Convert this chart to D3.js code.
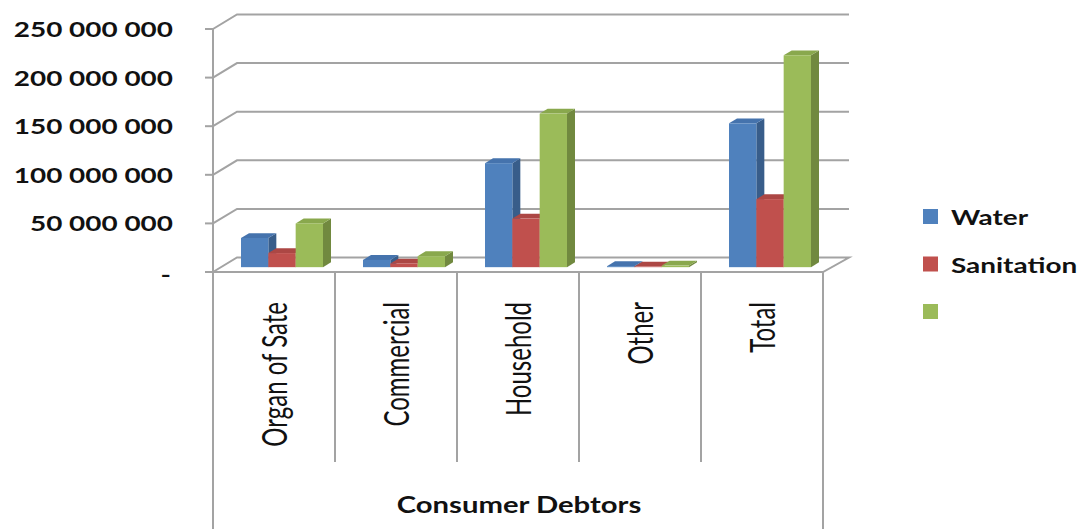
<!DOCTYPE html>
<html>
<head>
<meta charset="utf-8">
<script src="https://cdn.jsdelivr.net/npm/d3@7"></script>
<style>
  body { margin: 0; background: #fff; }
  text { font-family: Lato, "Open Sans", sans-serif; fill: #111; }
</style>
</head>
<body>
<div id="chart-container"></div>
<script>
// data (values in rand)
const categories = ["Organ of Sate", "Commercial", "Household", "Other", "Total"];
const seriesNames = ["Water", "Sanitation", ""];
const water = [30e6, 7.5e6, 107e6, 1e6, 148e6];
const sanitation = [14.5e6, 3.8e6, 50e6, 0.6e6, 70e6];
const third = [45e6, 11.3e6, 158e6, 1.6e6, 218e6];
const yTicks = [0, 50e6, 100e6, 150e6, 200e6, 250e6];
const yTickLabels = ["-", "50 000 000", "100 000 000", "150 000 000", "200 000 000", "250 000 000"];
const xAxisTitle = "Consumer Debtors";

const width = 1078, height = 529;
const plot = { left: 213, right: 823, top: 29, base: 272 };
const depth = { dx: 24, dy: -14.5 };   // floor depth vector
const barDepth = [1 / 3, 2 / 3];          // bars sit in the middle third
const stretch = 1.33;                     // the original picture is stretched sideways

const colors = ["#4f81bd", "#c0504d", "#9bbb59"];
const sideColors = ["#385d8a", "#8f3b39", "#71893f"];
const topColors = ["#4573ad", "#ac4744", "#89a84d"];
const gridColor = "#a3a3a3";

const svg = d3.select("#chart-container").append("svg")
  .attr("width", width).attr("height", height);

const x = d3.scaleBand().domain(categories).range([plot.left, plot.right]);
const xs = d3.scaleBand().domain(d3.range(seriesNames.length))
  .range([20, x.bandwidth() - 20]);
const y = d3.scaleLinear().domain([0, 250e6]).range([plot.base, plot.top]);

const values = [water, sanitation, third];

// walls & gridlines
let g = svg.append("g").attr("fill", "none").attr("stroke", gridColor).attr("stroke-width", 2);
const backRight = plot.right + depth.dx + 2;
yTicks.forEach(v => {
  const yy = y(v);
  if (v === 0) {
    g.append("path").attr("d",
      `M${plot.left},${yy}L${plot.left + depth.dx},${yy + depth.dy}L${backRight},${yy + depth.dy}` +
      `L${plot.right},${yy}Z`);
  } else {
    g.append("path").attr("d",
      `M${plot.left},${yy}L${plot.left + depth.dx},${yy + depth.dy}L${backRight},${yy + depth.dy}`);
  }
  g.append("line").attr("x1", plot.left - 8).attr("x2", plot.left).attr("y1", yy).attr("y2", yy);
});

// front vertical lines / category table
g.append("line").attr("x1", plot.left).attr("x2", plot.left).attr("y1", y(250e6)).attr("y2", height);
g.append("line").attr("x1", plot.right).attr("x2", plot.right).attr("y1", plot.base).attr("y2", height);
categories.slice(1).forEach(c => {
  g.append("line").attr("x1", x(c)).attr("x2", x(c)).attr("y1", plot.base).attr("y2", 462);
});

// bars
let gBars = svg.append("g");
const f0x = depth.dx * barDepth[0], f0y = depth.dy * barDepth[0];
const ddx = depth.dx * (barDepth[1] - barDepth[0]), ddy = depth.dy * (barDepth[1] - barDepth[0]);
categories.forEach((c, ci) => {
  values.forEach((vals, si) => {
    const xl = x(c) + xs(si) + f0x;
    const xr = xl + xs.bandwidth();
    const yt = y(vals[ci]) + f0y;
    const yb = y(0) + f0y;
    // side
    gBars.append("path")
      .attr("d", `M${xr},${yt}L${xr + ddx},${yt + ddy}L${xr + ddx},${yb + ddy}L${xr},${yb}Z`)
      .attr("fill", sideColors[si]);
    // top
    gBars.append("path")
      .attr("d", `M${xl},${yt}L${xr},${yt}L${xr + ddx},${yt + ddy}L${xl + ddx},${yt + ddy}Z`)
      .attr("fill", topColors[si]);
    // front
    gBars.append("rect")
      .attr("x", xl).attr("y", yt)
      .attr("width", xs.bandwidth()).attr("height", Math.max(0, yb - yt))
      .attr("fill", colors[si]);
  });
});

// y tick labels
let gText = svg.append("g");
yTicks.forEach((v, i) => {
  gText.append("text")
    .attr("transform", `translate(${i === 0 ? 171 : 173},${y(v) + (i === 0 ? 10 : 8)}) scale(${stretch},1)`)
    .attr("text-anchor", "end")
    .attr("font-size", 21).attr("font-weight", "bold")
    .text(yTickLabels[i]);
});

// category labels, rotated
categories.forEach(c => {
  gText.append("text")
    .attr("transform", `translate(${x(c) + x.bandwidth() / 2 + 13},302) scale(1.42,1) rotate(-90)`)
    .attr("text-anchor", "end")
    .attr("font-size", 24)
    .text(c);
});

// axis title
gText.append("text")
  .attr("transform", `translate(${(plot.left + plot.right) / 2 + 1},513) scale(${stretch},1)`)
  .attr("text-anchor", "middle")
  .attr("font-size", 22).attr("font-weight", "bold")
  .text(xAxisTitle);

// legend
let gLegend = svg.append("g").attr("transform", "translate(923,209)");
seriesNames.forEach((s, i) => {
  gLegend.append("rect").attr("x", 0).attr("y", i * 47.5)
    .attr("width", 15).attr("height", 15).attr("fill", colors[i]);
  gLegend.append("text")
    .attr("transform", `translate(28,${i * 47.5 + 16}) scale(${stretch},1)`)
    .attr("font-size", 21).attr("font-weight", "bold")
    .text(s);
});
</script>
</body>
</html>
